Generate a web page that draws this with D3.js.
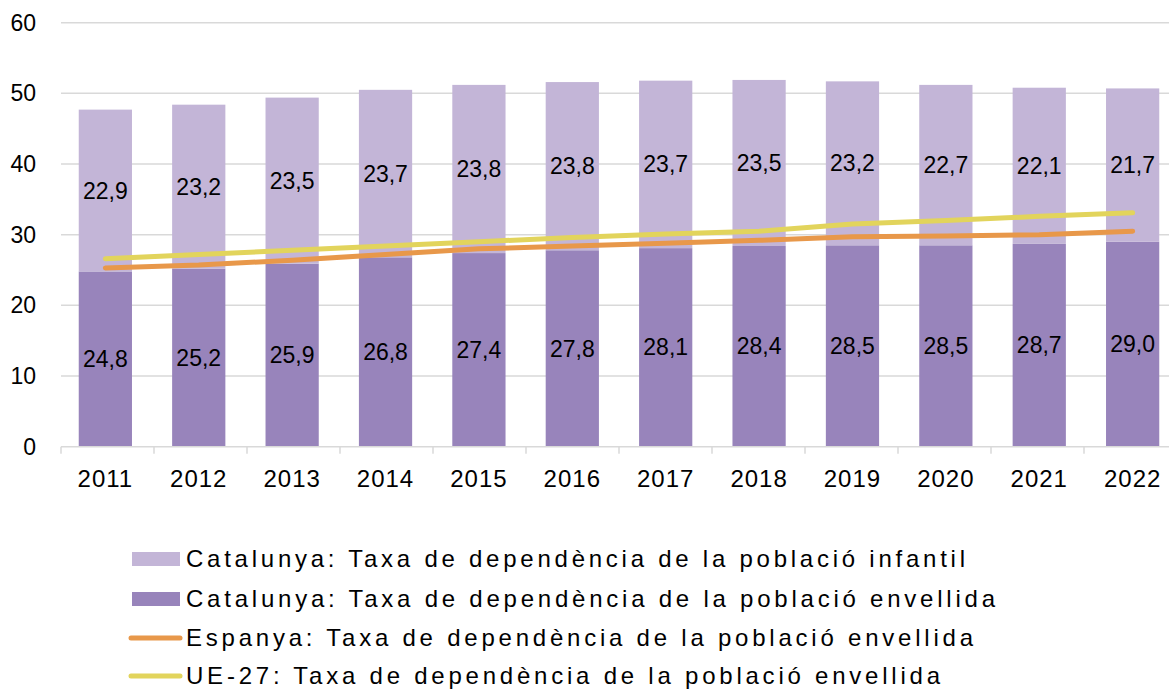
<!DOCTYPE html>
<html>
<head>
<meta charset="utf-8">
<script src="https://cdn.jsdelivr.net/npm/d3@7"></script>
<style>
  body { margin: 0; background: #fff; }
  svg { display: block; font-family: "Liberation Sans", Arial, sans-serif; }
</style>
</head>
<body>
<div id="chart"></div>
<script>
const years = [2011, 2012, 2013, 2014, 2015, 2016, 2017, 2018, 2019, 2020, 2021, 2022]
const envellida = [24.8, 25.2, 25.9, 26.8, 27.4, 27.8, 28.1, 28.4, 28.5, 28.5, 28.7, 29.0]
const infantil = [22.9, 23.2, 23.5, 23.7, 23.8, 23.8, 23.7, 23.5, 23.2, 22.7, 22.1, 21.7]
const espanya = [25.3, 25.7, 26.4, 27.2, 28.0, 28.4, 28.8, 29.2, 29.7, 29.8, 30.0, 30.5]
const ue27 = [26.6, 27.2, 27.8, 28.4, 29.0, 29.6, 30.1, 30.5, 31.5, 32.0, 32.6, 33.1]
const yTicks = [0, 10, 20, 30, 40, 50, 60]

const legendItems = [
  { label: 'Catalunya: Taxa de dependència de la població infantil', type: 'rect', color: '#c3b5d7', len: 779 },
  { label: 'Catalunya: Taxa de dependència de la població envellida', type: 'rect', color: '#9884bb', len: 809 },
  { label: 'Espanya: Taxa de dependència de la població envellida', type: 'line', color: '#e8984a', len: 787 },
  { label: 'UE-27: Taxa de dependència de la població envellida', type: 'line', color: '#e2d45c', len: 754 },
]

const width = 1169
const height = 691
const plotLeft = 61
const plotRight = 1177
const plotTop = 22.7
const plotBottom = 446.7

const fmt = (v) => v.toFixed(1).replace('.', ',')

const x = d3.scaleBand().domain(years).range([plotLeft, plotRight]).paddingInner(0.43).paddingOuter(0.19)
const xc = (yr) => x(yr) + x.bandwidth() / 2
const y = d3.scaleLinear().domain([0, 60]).range([plotBottom, plotTop])

const svg = d3.select('#chart')
  .append('svg')
  .attr('width', width)
  .attr('height', height)

// gridlines
svg.append('g')
  .selectAll('line')
  .data(yTicks.filter((t) => t > 0))
  .enter()
  .append('line')
  .attr('x1', plotLeft)
  .attr('x2', plotRight)
  .attr('y1', (d) => y(d))
  .attr('y2', (d) => y(d))
  .attr('stroke', '#d9d9d9')
  .attr('stroke-width', 1.5)

// y labels
svg.append('g')
  .selectAll('text')
  .data(yTicks)
  .enter()
  .append('text')
  .attr('x', 36)
  .attr('y', (d) => y(d))
  .attr('dy', '0.35em')
  .attr('text-anchor', 'end')
  .attr('font-size', 23)
  .attr('fill', '#000')
  .text((d) => d)

// bars
const rows = years.map((yr, i) => ({ yr, env: envellida[i], inf: infantil[i] }))
const bars = svg.append('g')
bars.selectAll('.env')
  .data(rows)
  .enter()
  .append('rect')
  .attr('x', (d) => x(d.yr))
  .attr('width', x.bandwidth())
  .attr('y', (d) => y(d.env))
  .attr('height', (d) => y(0) - y(d.env))
  .attr('fill', '#9884bb')
bars.selectAll('.inf')
  .data(rows)
  .enter()
  .append('rect')
  .attr('x', (d) => x(d.yr))
  .attr('width', x.bandwidth())
  .attr('y', (d) => y(d.env + d.inf))
  .attr('height', (d) => y(d.env) - y(d.env + d.inf))
  .attr('fill', '#c3b5d7')

// x axis
svg.append('line')
  .attr('x1', plotLeft).attr('x2', plotRight)
  .attr('y1', plotBottom).attr('y2', plotBottom)
  .attr('stroke', '#d9d9d9').attr('stroke-width', 1.5)
svg.append('g')
  .selectAll('line')
  .data(d3.range(years.length + 1))
  .enter()
  .append('line')
  .attr('x1', (d) => plotLeft + d * (plotRight - plotLeft) / years.length)
  .attr('x2', (d) => plotLeft + d * (plotRight - plotLeft) / years.length)
  .attr('y1', plotBottom)
  .attr('y2', plotBottom + 7)
  .attr('stroke', '#d9d9d9')
  .attr('stroke-width', 1.5)
svg.append('g')
  .selectAll('text')
  .data(years)
  .enter()
  .append('text')
  .attr('x', (d) => xc(d))
  .attr('y', 479)
  .attr('dy', '0.35em')
  .attr('text-anchor', 'middle')
  .attr('font-size', 24)
  .attr('letter-spacing', 1)
  .text((d) => d)

// lines
const line = d3.line().x((d) => xc(d.yr)).y((d) => y(d.v))
const series = [
  { values: ue27, color: '#e2d45c' },
  { values: espanya, color: '#e8984a' },
]
series.forEach((s) => {
  svg.append('path')
    .datum(years.map((yr, i) => ({ yr, v: s.values[i] })))
    .attr('d', line)
    .attr('fill', 'none')
    .attr('stroke', s.color)
    .attr('stroke-width', 5)
    .attr('stroke-linecap', 'round')
    .attr('stroke-linejoin', 'round')
})

// data labels
const labels = svg.append('g').attr('font-size', 23).attr('text-anchor', 'middle')
labels.selectAll('.le')
  .data(rows)
  .enter()
  .append('text')
  .attr('x', (d) => xc(d.yr))
  .attr('y', (d) => y(d.env / 2))
  .attr('dy', '0.35em')
  .text((d) => fmt(d.env))
labels.selectAll('.li')
  .data(rows)
  .enter()
  .append('text')
  .attr('x', (d) => xc(d.yr))
  .attr('y', (d) => y(d.env + d.inf / 2))
  .attr('dy', '0.35em')
  .text((d) => fmt(d.inf))

// legend
const legend = svg.append('g')
legendItems.forEach((item, i) => {
  const cy = [559, 599, 638, 676][i]
  if (item.type === 'rect') {
    legend.append('rect')
      .attr('x', 132).attr('y', cy - 7)
      .attr('width', 48).attr('height', 14)
      .attr('fill', item.color)
  } else {
    legend.append('line')
      .attr('x1', 131).attr('x2', 180)
      .attr('y1', cy).attr('y2', cy)
      .attr('stroke', item.color)
      .attr('stroke-width', 5)
      .attr('stroke-linecap', 'round')
  }
  legend.append('text')
    .attr('x', 186)
    .attr('y', cy)
    .attr('dy', '0.35em')
    .attr('font-size', 24)
    .attr('textLength', item.len)
    .attr('lengthAdjust', 'spacing')
    .text(item.label)
})
</script>
</body>
</html>
